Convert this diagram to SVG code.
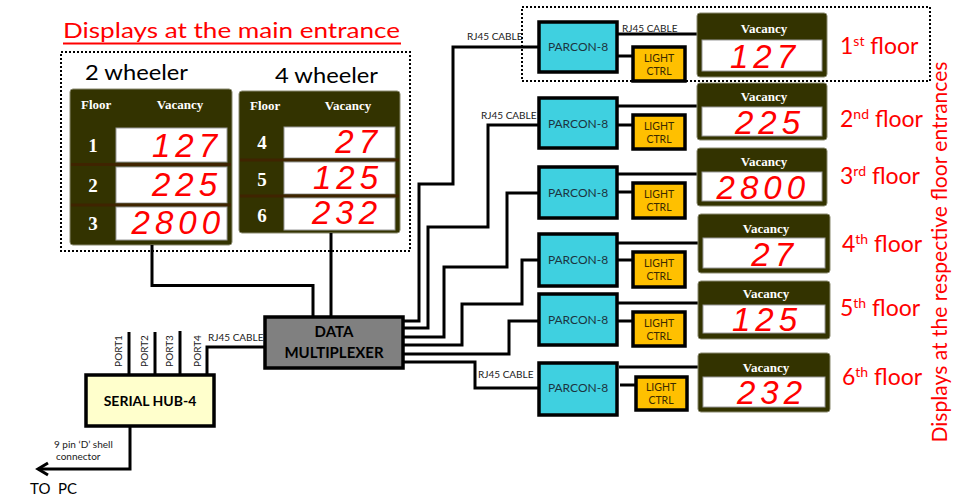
<svg xmlns="http://www.w3.org/2000/svg" width="966" height="501" viewBox="0 0 966 501">
<style>
.ln{fill:none;stroke:#000;stroke-width:3}
.dot{fill:none;stroke:#000;stroke-width:2;stroke-dasharray:2 2}
.panel{fill:#333300;stroke:#8a8a70;stroke-width:1}
.wb{fill:#fff;stroke:#9a9a9a;stroke-width:1}
.sep{stroke:#3f2400;stroke-width:3}
.hd{font-family:"Liberation Serif",serif;font-weight:bold;font-size:13px;fill:#fff}
.num{font-family:"Liberation Serif",serif;font-weight:bold;font-size:19px;fill:#fff;text-anchor:middle}
.seg{font-family:"Liberation Sans",sans-serif;font-style:italic;font-size:33px;fill:#ff0000;letter-spacing:5px;text-anchor:end}
.red{font-family:Lato,"Liberation Sans",sans-serif;fill:#ff0000}
.blk{font-family:Lato,"Liberation Sans",sans-serif;fill:#000}
.sm{font-family:Lato,"Liberation Sans",sans-serif;font-size:10px;fill:#1a1a1a}
.pc{fill:#3fd0e0;stroke:#000;stroke-width:3.5}
.lc{fill:#ffc000;stroke:#000;stroke-width:3.5}
.pct{font-family:Lato,"Liberation Sans",sans-serif;font-size:12px;fill:#1c3440;text-anchor:middle}
.lct{font-family:Lato,"Liberation Sans",sans-serif;font-size:10.5px;fill:#3a2a00;text-anchor:middle}
</style>

<!-- title -->
<g id="title">
<text class="red" x="63" y="38" font-size="22" textLength="337" lengthAdjust="spacingAndGlyphs">Displays at the main entrance</text>
<line x1="63" y1="43.5" x2="401" y2="43.5" stroke="#ff0000" stroke-width="2"/>
</g>

<rect class="dot" x="61" y="52" width="349" height="199"/>
<rect class="dot" x="522" y="7" width="408" height="74"/>

<g id="label-2wheeler"><text class="blk" x="85" y="80" font-size="22" textLength="103" lengthAdjust="spacingAndGlyphs">2 wheeler</text></g>
<g id="label-4wheeler"><text class="blk" x="275" y="83" font-size="22" textLength="103" lengthAdjust="spacingAndGlyphs">4 wheeler</text></g>

<!-- main panel 2 wheeler -->
<g id="main-display-2w">
<rect class="panel" x="70" y="89" width="162" height="156" rx="3"/>
<text class="hd" x="81" y="109">Floor</text>
<text class="hd" x="180" y="109" text-anchor="middle">Vacancy</text>
<rect class="wb" x="116" y="128" width="111" height="34"/>
<line class="sep" x1="71" y1="164.5" x2="231" y2="164.5"/>
<rect class="wb" x="116" y="167" width="111" height="36"/>
<line class="sep" x1="71" y1="205" x2="231" y2="205"/>
<rect class="wb" x="116" y="207" width="111" height="33"/>
<text class="num" x="93" y="152">1</text>
<text class="num" x="93" y="192">2</text>
<text class="num" x="93" y="230">3</text>
<text class="seg" x="222" y="157">127</text>
<text class="seg" x="222" y="196">225</text>
<text class="seg" x="225" y="234">2800</text>
</g>

<!-- main panel 4 wheeler -->
<g id="main-display-4w">
<rect class="panel" x="239" y="91" width="161" height="142" rx="3"/>
<text class="hd" x="250" y="110">Floor</text>
<text class="hd" x="348" y="110" text-anchor="middle">Vacancy</text>
<rect class="wb" x="284" y="127" width="111" height="31"/>
<line class="sep" x1="240" y1="160" x2="399" y2="160"/>
<rect class="wb" x="284" y="162" width="111" height="32"/>
<line class="sep" x1="240" y1="196" x2="399" y2="196"/>
<rect class="wb" x="284" y="198" width="111" height="32"/>
<text class="num" x="262" y="149">4</text>
<text class="num" x="262" y="186">5</text>
<text class="num" x="262" y="222">6</text>
<text class="seg" x="382" y="153">27</text>
<text class="seg" x="383" y="189">125</text>
<text class="seg" x="382" y="224">232</text>
</g>

<!-- connectors -->
<g id="connectors">
<polyline class="ln" points="152,245 152,285.5 313,285.5 313,317"/>
<line class="ln" x1="331" y1="233" x2="331" y2="317"/>
<polyline class="ln" points="403,321 419,321 419,184 453,184 453,47 539,47"/>
<polyline class="ln" points="403,328 428,328 428,227 488,227 488,125 539,125"/>
<polyline class="ln" points="403,337 444,337 444,267 507,267 507,193 539,193"/>
<polyline class="ln" points="403,345 462,345 462,304 522,304 522,260 539,260"/>
<polyline class="ln" points="403,354 509,354 509,321 539,321"/>
<polyline class="ln" points="403,362 475,362 475,388 539,388"/>
<line class="ln" x1="617" y1="56" x2="633" y2="56"/>
<line class="ln" x1="617" y1="125" x2="633" y2="125"/>
<line class="ln" x1="617" y1="192" x2="633" y2="192"/>
<line class="ln" x1="617" y1="260" x2="633" y2="260"/>
<line class="ln" x1="617" y1="321" x2="633" y2="321"/>
<line class="ln" x1="620" y1="385" x2="636" y2="385"/>
<line class="ln" x1="617" y1="34" x2="697" y2="34"/>
<line class="ln" x1="617" y1="106" x2="697" y2="106"/>
<line class="ln" x1="617" y1="174" x2="697" y2="174"/>
<line class="ln" x1="617" y1="243" x2="698" y2="243"/>
<line class="ln" x1="617" y1="303" x2="698" y2="303"/>
<line class="ln" x1="619" y1="367" x2="698" y2="367"/>
<line class="ln" x1="129" y1="332" x2="129" y2="375"/>
<line class="ln" x1="155" y1="332" x2="155" y2="375"/>
<line class="ln" x1="180" y1="331" x2="180" y2="375"/>
<polyline class="ln" points="207,375 207,347 265,347"/>
<polyline class="ln" points="130,426 130,469 38,469"/>
<polyline class="ln" points="48,463 38,469 48,475"/>
<text class="sm" x="467" y="40">RJ45 CABLE</text>
<text class="sm" x="481" y="119">RJ45 CABLE</text>
<text class="sm" x="478" y="378">RJ45 CABLE</text>
<text class="sm" x="622" y="32">RJ45 CABLE</text>
<text class="sm" x="208" y="341">RJ45 CABLE</text>
<text class="sm" transform="translate(122,351) rotate(-90)" text-anchor="middle">PORT1</text>
<text class="sm" transform="translate(148,351) rotate(-90)" text-anchor="middle">PORT2</text>
<text class="sm" transform="translate(173,351) rotate(-90)" text-anchor="middle">PORT3</text>
<text class="sm" transform="translate(201,351) rotate(-90)" text-anchor="middle">PORT4</text>
<text class="sm" x="54" y="448">9 pin ‘D’ shell</text>
<text class="sm" x="56" y="460">connector</text>
<text class="blk" x="30" y="494" font-size="15" xml:space="preserve">TO  PC</text>
</g>

<!-- data multiplexer -->
<g id="data-multiplexer">
<rect x="265" y="317" width="138" height="51" fill="#808080" stroke="#000" stroke-width="3.5"/>
<text class="blk" x="334" y="337" font-size="15" font-weight="bold" text-anchor="middle" fill="#1a1a1a">DATA</text>
<text class="blk" x="334" y="358" font-size="15" font-weight="bold" text-anchor="middle" fill="#1a1a1a">MULTIPLEXER</text>
</g>

<!-- serial hub -->
<g id="serial-hub">
<rect x="86" y="375" width="128" height="51" fill="#ffffcc" stroke="#000" stroke-width="3.5"/>
<text class="blk" x="150" y="406" font-size="14" font-weight="bold" text-anchor="middle" fill="#1a1a1a">SERIAL HUB-4</text>
</g>

<!-- parcons -->
<g id="parcon-1"><rect class="pc" x="539" y="22" width="78" height="50"/><text class="pct" x="578" y="51">PARCON-8</text></g>
<g id="parcon-2"><rect class="pc" x="539" y="98" width="78" height="50"/><text class="pct" x="578" y="128">PARCON-8</text></g>
<g id="parcon-3"><rect class="pc" x="539" y="167" width="78" height="51"/><text class="pct" x="578" y="197">PARCON-8</text></g>
<g id="parcon-4"><rect class="pc" x="539" y="234" width="78" height="52"/><text class="pct" x="578" y="264">PARCON-8</text></g>
<g id="parcon-5"><rect class="pc" x="539" y="294" width="78" height="51"/><text class="pct" x="578" y="324">PARCON-8</text></g>
<g id="parcon-6"><rect class="pc" x="539" y="363" width="78" height="52"/><text class="pct" x="578" y="392">PARCON-8</text></g>

<!-- light ctrl -->
<g id="light-1"><rect class="lc" x="633" y="47" width="52" height="34"/><text class="lct" x="659" y="62">LIGHT</text><text class="lct" x="659" y="75">CTRL</text></g>
<g id="light-2"><rect class="lc" x="633" y="115" width="52" height="34"/><text class="lct" x="659" y="130">LIGHT</text><text class="lct" x="659" y="143">CTRL</text></g>
<g id="light-3"><rect class="lc" x="633" y="183" width="52" height="35"/><text class="lct" x="659" y="198">LIGHT</text><text class="lct" x="659" y="211">CTRL</text></g>
<g id="light-4"><rect class="lc" x="633" y="252" width="52" height="35"/><text class="lct" x="659" y="267">LIGHT</text><text class="lct" x="659" y="280">CTRL</text></g>
<g id="light-5"><rect class="lc" x="633" y="312" width="52" height="34"/><text class="lct" x="659" y="327">LIGHT</text><text class="lct" x="659" y="340">CTRL</text></g>
<g id="light-6"><rect class="lc" x="636" y="377" width="51" height="33"/><text class="lct" x="661" y="391">LIGHT</text><text class="lct" x="661" y="404">CTRL</text></g>

<!-- floor displays -->
<g id="floor-display-1">
<rect class="panel" x="697" y="13" width="130" height="64" rx="3"/>
<text class="hd" x="764" y="33" text-anchor="middle">Vacancy</text>
<rect class="wb" x="702" y="40" width="120" height="31"/>
<text class="seg" x="800" y="68">127</text>
</g>
<g id="floor-display-2">
<rect class="panel" x="697" y="83" width="130" height="57" rx="3"/>
<text class="hd" x="764" y="101" text-anchor="middle">Vacancy</text>
<rect class="wb" x="702" y="107" width="120" height="29"/>
<text class="seg" x="805" y="134">225</text>
</g>
<g id="floor-display-3">
<rect class="panel" x="697" y="148" width="130" height="58" rx="3"/>
<text class="hd" x="764" y="166" text-anchor="middle">Vacancy</text>
<rect class="wb" x="702" y="172" width="120" height="29"/>
<text class="seg" x="810" y="199">2800</text>
</g>
<g id="floor-display-4">
<rect class="panel" x="698" y="214" width="132" height="59" rx="3"/>
<text class="hd" x="766" y="233" text-anchor="middle">Vacancy</text>
<rect class="wb" x="703" y="238" width="122" height="30"/>
<text class="seg" x="798" y="266">27</text>
</g>
<g id="floor-display-5">
<rect class="panel" x="698" y="281" width="132" height="58" rx="3"/>
<text class="hd" x="766" y="298" text-anchor="middle">Vacancy</text>
<rect class="wb" x="703" y="305" width="122" height="28"/>
<text class="seg" x="802" y="331">125</text>
</g>
<g id="floor-display-6">
<rect class="panel" x="698" y="353" width="132" height="59" rx="3"/>
<text class="hd" x="766" y="372" text-anchor="middle">Vacancy</text>
<rect class="wb" x="703" y="377" width="122" height="30"/>
<text class="seg" x="807" y="404">232</text>
</g>

<!-- floor labels -->
<g id="floor-labels" class="red" font-size="23">
<text x="840" y="54">1<tspan font-size="14" dy="-8">st</tspan><tspan dy="8"> floor</tspan></text>
<text x="840" y="127">2<tspan font-size="14" dy="-8">nd</tspan><tspan dy="8"> floor</tspan></text>
<text x="840" y="184">3<tspan font-size="14" dy="-8">rd</tspan><tspan dy="8"> floor</tspan></text>
<text x="842" y="252">4<tspan font-size="14" dy="-8">th</tspan><tspan dy="8"> floor</tspan></text>
<text x="840" y="316">5<tspan font-size="14" dy="-8">th</tspan><tspan dy="8"> floor</tspan></text>
<text x="842" y="385">6<tspan font-size="14" dy="-8">th</tspan><tspan dy="8"> floor</tspan></text>
</g>

<g id="side-label">
<text class="red" font-size="22" transform="translate(947,252) rotate(-90)" text-anchor="middle" textLength="381" lengthAdjust="spacingAndGlyphs">Displays at the respective floor entrances</text>
</g>
</svg>
